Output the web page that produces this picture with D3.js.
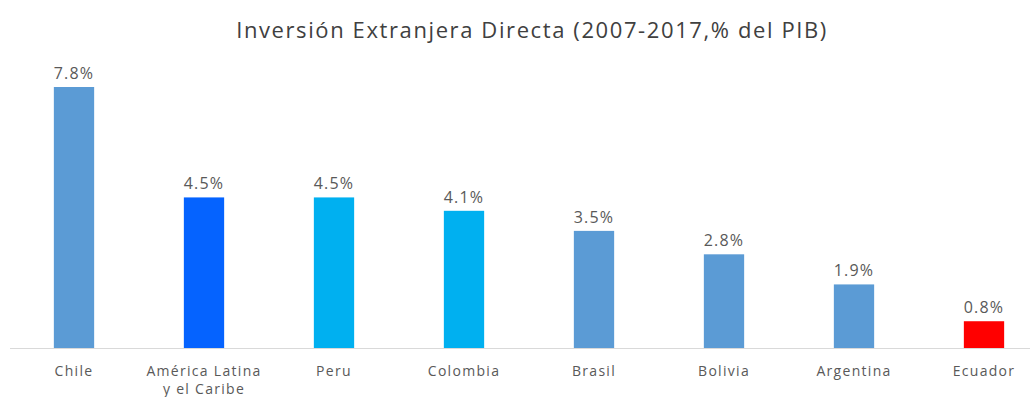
<!DOCTYPE html>
<html>
<head>
<meta charset="utf-8">
<script src="https://cdn.jsdelivr.net/npm/d3@7"></script>
<style>
  html, body { margin: 0; padding: 0; background: #fff; }
  svg { display: block; }
</style>
</head>
<body>
<svg id="chart" width="1035" height="397"></svg>
<script>
// Foreign direct investment, average 2007-2017, % of GDP
const categories = ["Chile", "América Latina\ny el Caribe", "Peru", "Colombia", "Brasil", "Bolivia", "Argentina", "Ecuador"];
const values = [7.8, 4.5, 4.5, 4.1, 3.5, 2.8, 1.9, 0.8];
const barColors = ["#5B9BD5", "#0563FF", "#00B0F0", "#00B0F0", "#5B9BD5", "#5B9BD5", "#5B9BD5", "#FF0000"];
const title = "Inversión Extranjera Directa (2007-2017,% del PIB)";

const svg = d3.select("#chart");
const baseY = 348;
const font = "'Open Sans', Lato, sans-serif";

const x = d3.scaleBand()
  .domain(categories)
  .range([9, 1049])
  .paddingInner(0.69)
  .paddingOuter(0.345);

const y = d3.scaleLinear()
  .domain([0, 7.8])
  .range([baseY, 87]);

// title
svg.append("text")
  .attr("x", 532)
  .attr("y", 38)
  .attr("text-anchor", "middle")
  .attr("font-family", font)
  .attr("font-size", 22)
  .attr("letter-spacing", 1.6)
  .attr("fill", "#404040")
  .text(title);

// bars
svg.selectAll("rect.bar")
  .data(values)
  .join("rect")
  .attr("class", "bar")
  .attr("x", (d, i) => x(categories[i]))
  .attr("width", x.bandwidth())
  .attr("y", d => y(d))
  .attr("height", d => baseY - y(d))
  .attr("fill", (d, i) => barColors[i]);

// value labels
svg.selectAll("text.val")
  .data(values)
  .join("text")
  .attr("class", "val")
  .attr("x", (d, i) => x(categories[i]) + x.bandwidth() / 2)
  .attr("y", d => y(d) - 8)
  .attr("text-anchor", "middle")
  .attr("font-family", font)
  .attr("font-size", 16)
  .attr("letter-spacing", 1.2)
  .attr("fill", "#595959")
  .text(d => d.toFixed(1) + "%");

// category axis
const axis = svg.append("g")
  .attr("transform", `translate(0,${baseY})`)
  .call(d3.axisBottom(x).tickSize(0).tickFormat(""));
axis.select(".domain")
  .attr("d", "M10,0.5H1030")
  .attr("stroke", "#D9D9D9")
  .attr("stroke-width", 1);

axis.selectAll(".tick").each(function(d) {
  const lines = d.split("\n");
  const t = d3.select(this).append("text")
    .attr("y", 28)
    .attr("text-anchor", "middle")
    .attr("font-family", font)
    .attr("font-size", 14)
    .attr("letter-spacing", 1.3)
    .attr("fill", "#595959");
  lines.forEach((ln, k) => {
    t.append("tspan").attr("x", 0).attr("dy", k === 0 ? 0 : 18).text(ln);
  });
});
</script>
</body>
</html>
